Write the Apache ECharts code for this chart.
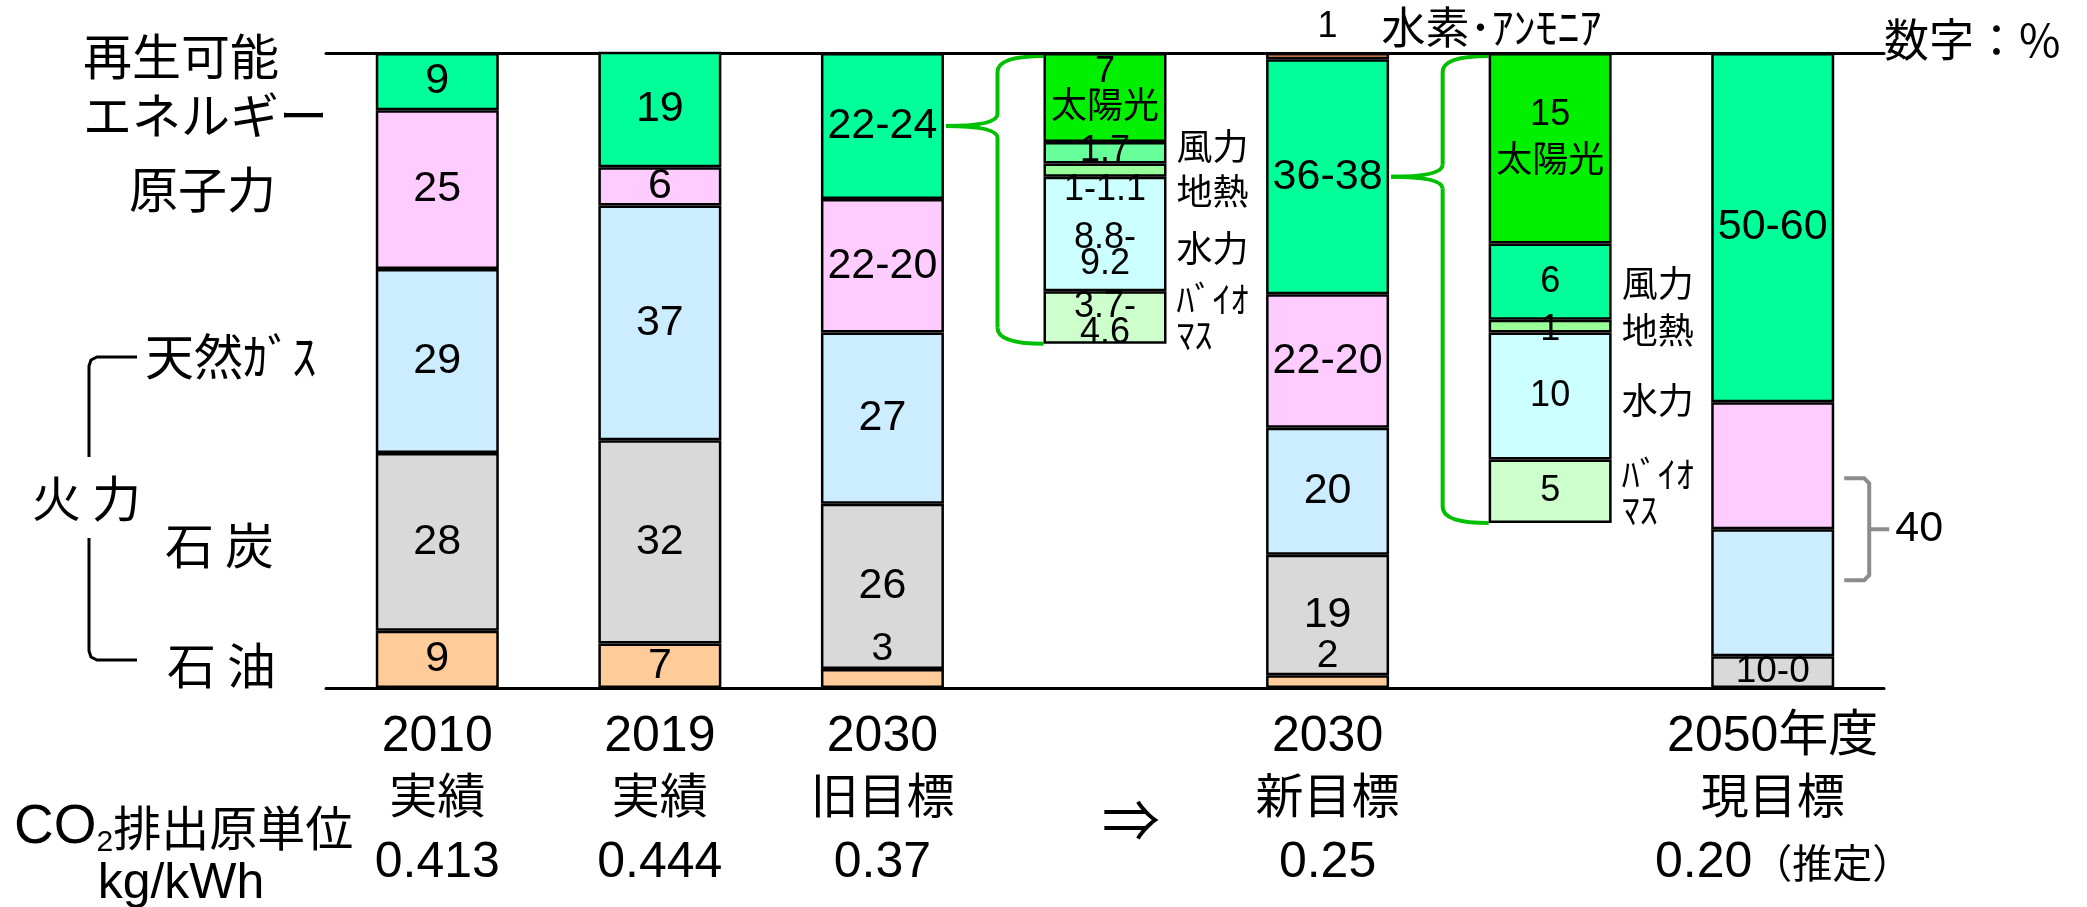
<!DOCTYPE html>
<html>
<head>
<meta charset="utf-8">
<script src="https://cdn.jsdelivr.net/npm/echarts@6/dist/echarts.min.js"></script>
<style>
html, body { margin: 0; padding: 0; background: #fff; }
#chart { width: 2087px; height: 907px; }
</style>
</head>
<body>
<div id="chart"></div>
<script>
// ---- categories and axis texts ----
const years = ['2010', '2019', '2030', '', '2030', '', '2050年度'];
const statusLabels = ['実績', '実績', '旧目標', '', '新目標', '', '現目標'];
const co2Values = ['0.413', '0.444', '0.37', '', '0.25', '', '0.20（推定）'];

// ---- power mix, % (stacked from the bottom) ----
const oil       = [9, 7, 3, null, 2, null, null];
const coal      = [28, 32, 26, null, 19, null, 5];
const gas       = [29, 37, 27, null, 20, null, 20];
const nuclear   = [25, 6, 21, null, 21, null, 20];
const renewable = [9, 19, 23, null, 37, null, 55];
const hydrogen  = [null, null, null, null, 1, null, null];

const oilText       = ['9', '7', '3', '', '2', '', ''];
const coalText      = ['28', '32', '26', '', '19', '', '10-0'];
const gasText       = ['29', '37', '27', '', '20', '', ''];
const nuclearText   = ['25', '6', '22-20', '', '22-20', '', ''];
const renewableText = ['9', '19', '22-24', '', '36-38', '', '50-60'];
const hydrogenText  = ['', '', '', '', '1', '', ''];
const hydrogenName  = '水素･ｱﾝﾓﾆｱ';

// ---- renewable breakdown, % (stacked from the top) ----
const solar      = [null, null, null, 7, null, 15, null];
const wind       = [null, null, null, 1.7, null, 6, null];
const geothermal = [null, null, null, 1.05, null, 1, null];
const hydro      = [null, null, null, 9, null, 10, null];
const biomass    = [null, null, null, 4.15, null, 5, null];

const solarText      = ['', '', '', '7\n太陽光', '', '15\n太陽光', ''];
const windText       = ['', '', '', '1.7', '', '6', ''];
const geothermalText = ['', '', '', '1-1.1', '', '1', ''];
const hydroText      = ['', '', '', '8.8-\n9.2', '', '10', ''];
const biomassText    = ['', '', '', '3.7-\n4.6', '', '5', ''];
const sourceNames    = ['風力', '地熱', '水力', 'ﾊﾞｲｵ\nﾏｽ'];

// which mix bar each breakdown expands
const breakdownOf = [[3, 2], [5, 4]];

// ---- drawing ----
const FONT = '"Liberation Sans", "Noto Sans CJK JP", sans-serif';
const CJK = '"Noto Sans CJK JP", "Liberation Sans", sans-serif';
const BAR_W = 123;
const BORDER = { borderColor: '#000', borderWidth: 2.5 };

function mainBar(name, values, texts, color) {
  return {
    name, type: 'bar', stack: 'mix', xAxisIndex: 0, yAxisIndex: 0,
    barWidth: BAR_W, barGap: '-100%', silent: true,
    itemStyle: Object.assign({ color }, BORDER),
    label: {
      show: true, position: 'inside', color: '#000', fontSize: 43, fontFamily: FONT,
      formatter: p => texts[p.dataIndex]
    },
    data: values.map(v => v == null ? null : {
      value: v,
      label: v < 4 ? { position: 'top', distance: 0, fontSize: 39 }
           : v <= 5 ? { fontSize: 37 } : undefined
    })
  };
}

function detailBar(name, values, texts, color, tweaks) {
  return {
    name, type: 'bar', stack: 'detail', xAxisIndex: 0, yAxisIndex: 1,
    barWidth: BAR_W, barGap: '-100%', silent: true,
    itemStyle: Object.assign({ color }, BORDER),
    label: {
      show: true, position: 'inside', color: '#000', fontSize: 36, lineHeight: 26,
      fontFamily: FONT, formatter: p => texts[p.dataIndex]
    },
    data: values.map((v, i) => v == null ? null : {
      value: v,
      label: tweaks && tweaks[i] ? tweaks[i] : undefined
    })
  };
}

// invisible twins of the breakdown bars, carrying the source names on their right
function nameBar(values, text, shifts) {
  return {
    type: 'bar', stack: 'names', xAxisIndex: 0, yAxisIndex: 1,
    barWidth: BAR_W, barGap: '-100%', silent: true, z: 1,
    itemStyle: { color: 'rgba(0,0,0,0)', borderWidth: 0 },
    label: {
      show: !!text, position: 'right', distance: 10, color: '#000',
      fontSize: 36, lineHeight: 36, fontFamily: CJK, formatter: () => text || ''
    },
    data: values.map((v, i) => v == null ? null : {
      value: v, label: { offset: [0, (shifts && shifts[i]) || 0] }
    })
  };
}

const hydrogenSeries = mainBar('水素・アンモニア', hydrogen, hydrogenText, '#F59A5A');
hydrogenSeries.label = {
  show: true, position: 'top', distance: 4, align: 'left', offset: [-10, 0],
  color: '#000', fontFamily: FONT,
  formatter: p => hydrogenText[p.dataIndex] ? '{n|' + hydrogenText[p.dataIndex] + '}{t|　' + hydrogenName + '}' : '',
  rich: { n: { fontSize: 36, fontFamily: FONT }, t: { fontSize: 44, fontFamily: CJK } }
};
hydrogenSeries.data = hydrogen.map(v => v == null ? null : { value: v });

const series = [
  mainBar('石油', oil, oilText, '#FFCC99'),
  mainBar('石炭', coal, coalText, '#D9D9D9'),
  mainBar('天然ガス', gas, gasText, '#CCECFF'),
  mainBar('原子力', nuclear, nuclearText, '#FFCCFF'),
  mainBar('再生可能エネルギー', renewable, renewableText, '#00FF99'),
  hydrogenSeries,
  detailBar('太陽光', solar, solarText, '#00F000', {
    3: { lineHeight: 36, offset: [0, -7] }, 5: { lineHeight: 47, offset: [0, -10] }
  }),
  detailBar('風力', wind, windText, p => p.dataIndex === 3 ? '#66FF99' : '#00FF99', {
    3: { offset: [0, -2] }
  }),
  detailBar('地熱', geothermal, geothermalText, '#99FF99', {
    3: { position: 'bottom', distance: 0 }, 5: { offset: [0, 4] }
  }),
  detailBar('水力', hydro, hydroText, '#CCFFFF', { 3: { offset: [0, 17] } }),
  detailBar('バイオマス', biomass, biomassText, '#CCFFCC', { 3: { offset: [0, 3] } }),
  nameBar(solar, ''),
  nameBar(wind, sourceNames[0], { 3: -6, 5: 2 }),
  nameBar(geothermal, sourceNames[1], { 3: 21, 5: 4 }),
  nameBar(hydro, sourceNames[2], { 3: 14, 5: 4 }),
  nameBar(biomass, sourceNames[3], { 3: 0, 5: 1 })
];

const option = {
  animation: false,
  backgroundColor: '#fff',
  textStyle: { fontFamily: FONT },
  grid: { left: 326, right: 203, top: 53, bottom: 219, containLabel: false, outerBoundsMode: 'none' },
  xAxis: [
    {
      type: 'category', data: years, position: 'bottom',
      axisLine: { show: true, lineStyle: { color: '#000', width: 3 } },
      axisTick: { show: false }, splitLine: { show: false },
      axisLabel: {
        interval: 0, margin: 21, color: '#000', fontSize: 48, lineHeight: 57, fontFamily: FONT,
        formatter: (v, i) => {
          if (!years[i]) return '';
          const c = co2Values[i];
          const k = c.indexOf('（');
          const co2 = k < 0 ? '{v|' + c + '}' : '{q|' + c.slice(0, k) + '}{p|' + c.slice(k) + '}';
          return '{y|' + years[i] + '}\n{s|' + statusLabels[i] + '}\n' + co2;
        },
        rich: {
          y: { fontSize: 50, lineHeight: 57, fontFamily: FONT, color: '#000' },
          s: { fontSize: 48, lineHeight: 57, fontFamily: CJK, color: '#000' },
          v: { fontSize: 50, lineHeight: 80, fontFamily: FONT, color: '#000' },
          q: { fontSize: 50, lineHeight: 80, fontFamily: FONT, color: '#000', padding: [0, 0, 0, 22] },
          p: { fontSize: 40, lineHeight: 80, fontFamily: CJK, color: '#000' }
        }
      }
    },
    {
      type: 'category', data: years, position: 'top',
      axisLine: { show: true, lineStyle: { color: '#000', width: 3 } },
      axisTick: { show: false }, axisLabel: { show: false }, splitLine: { show: false }
    }
  ],
  yAxis: [
    { type: 'value', min: 0, max: 100, show: false },
    { type: 'value', min: 0, max: 50, inverse: true, show: false }
  ],
  series
};

const chart = echarts.init(document.getElementById('chart'));
chart.setOption(option);

// ---- annotations placed from the axes ----
const px = i => chart.convertToPixel({ xAxisIndex: 0 }, i);
const py0 = v => chart.convertToPixel({ yAxisIndex: 0 }, v);
const py1 = v => chart.convertToPixel({ yAxisIndex: 1 }, v);
const n = v => v == null ? 0 : v;
const detailSets = [solar, wind, geothermal, hydro, biomass];

function brace(detailIdx, srcIdx) {
  const left = px(detailIdx) - BAR_W / 2;
  const vx = left - 46;
  const top = py1(0) + 3;
  const bot = py1(detailSets.reduce((s, a) => s + n(a[detailIdx]), 0));
  const tipX = px(srcIdx) + BAR_W / 2 + 2;
  const below = n(oil[srcIdx]) + n(coal[srcIdx]) + n(gas[srcIdx]) + n(nuclear[srcIdx]);
  const tipY = py0(below + renewable[srcIdx] / 2);
  const r = 16, r2 = 12;
  const st = { stroke: '#00C000', lineWidth: 4, fill: null };
  return [
    { type: 'bezierCurve', shape: { x1: left, y1: top, cpx1: vx, cpy1: top, x2: vx, y2: top + r }, style: st },
    { type: 'line', shape: { x1: vx, y1: top + r, x2: vx, y2: tipY - r2 }, style: st },
    { type: 'bezierCurve', shape: { x1: vx, y1: tipY - r2, cpx1: vx, cpy1: tipY, x2: tipX, y2: tipY }, style: st },
    { type: 'bezierCurve', shape: { x1: tipX, y1: tipY, cpx1: vx, cpy1: tipY, x2: vx, y2: tipY + r2 }, style: st },
    { type: 'line', shape: { x1: vx, y1: tipY + r2, x2: vx, y2: bot - r }, style: st },
    { type: 'bezierCurve', shape: { x1: vx, y1: bot - r, cpx1: vx, cpy1: bot, x2: left, y2: bot }, style: st }
  ];
}

// bracket grouping nuclear + gas of the last bar
function pairBracket(i) {
  const right = px(i) + BAR_W / 2;
  const mid = py0(n(coal[i]) + n(gas[i]));
  const h = 51;
  const x0 = right + 10, x1 = right + 35;
  const st = { stroke: '#8C8C8C', lineWidth: 4, fill: null };
  return [
    { type: 'polyline', shape: { points: [[x0, mid - h], [x1 - 5, mid - h], [x1, mid - h + 5], [x1, mid + h - 5], [x1 - 5, mid + h], [x0, mid + h]] }, style: st },
    { type: 'line', shape: { x1: x1, y1: mid, x2: x1 + 20, y2: mid }, style: st },
    { type: 'text', style: { text: String(n(nuclear[i]) + n(gas[i])), x: x1 + 26, y: mid, fill: '#000', font: 'normal 43px ' + FONT, textAlign: 'left', textVerticalAlign: 'middle' } }
  ];
}

function label(text, x, y, size, opts) {
  return {
    type: 'text', silent: true,
    style: Object.assign({
      text, x, y, fill: '#000', font: 'normal ' + size + 'px ' + CJK,
      textAlign: 'left', textVerticalAlign: 'middle'
    }, opts || {})
  };
}

const lineStyle = { stroke: '#000', lineWidth: 3, fill: null };
const graphics = [
  label('再生可能', 83, 56, 49),
  label('エネルギー', 83, 115, 49),
  label('原子力', 129, 189, 49),
  label('天然ｶﾞｽ', 145, 356, 49),
  label('火 力', 32, 498, 49),
  label('石 炭', 165, 545, 49),
  label('石 油', 167, 665, 49),
  { type: 'polyline', shape: { points: [[137, 357], [97, 357], [91, 360], [89, 366], [89, 457]] }, style: lineStyle },
  { type: 'polyline', shape: { points: [[89, 538], [89, 651], [91, 657], [97, 660], [137, 660]] }, style: lineStyle },
  label('数字：%', 1884, 40, 45),
  label('⇒', 1131, 820, 58, { textAlign: 'center' }),
  {
    type: 'text', silent: true,
    style: {
      text: '{a|CO}{s|2}{b|排出原単位}', x: 14, y: 828, textAlign: 'left', textVerticalAlign: 'middle',
      rich: {
        a: { fontSize: 55, lineHeight: 60, fontFamily: FONT, fill: '#000' },
        s: { fontSize: 30, lineHeight: 34, fontFamily: FONT, fill: '#000', verticalAlign: 'bottom' },
        b: { fontSize: 48, lineHeight: 60, fontFamily: CJK, fill: '#000' }
      }
    }
  },
  label('kg/kWh', 181, 884, 50, { textAlign: 'center', font: 'normal 50px ' + FONT })
];
breakdownOf.forEach(([d, s]) => graphics.push(...brace(d, s)));
graphics.push(...pairBracket(6));

chart.setOption({ graphic: graphics });
</script>
</body>
</html>
